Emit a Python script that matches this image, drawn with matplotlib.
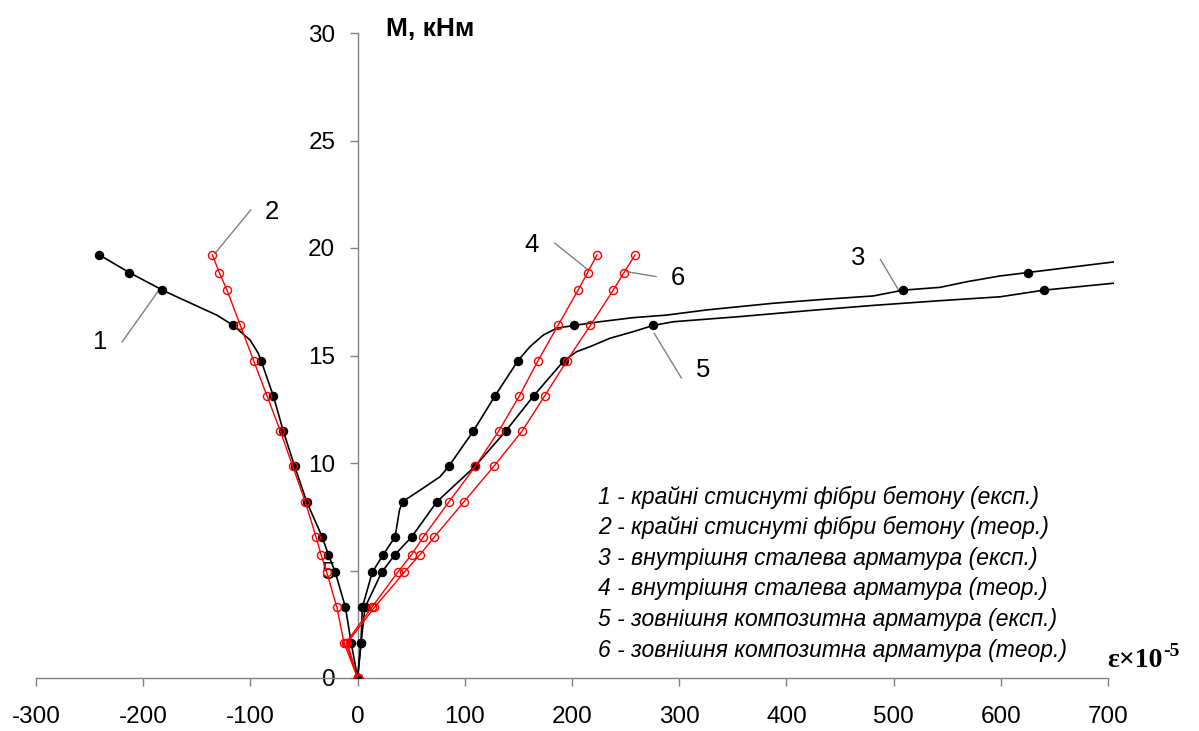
import matplotlib
matplotlib.use('Agg')
import matplotlib.pyplot as plt

plt.rcParams['font.family'] = ['Liberation Sans', 'DejaVu Sans']
plt.rcParams['axes.unicode_minus'] = False

# рівні моменту, кНм
m_all = [0, 1.64, 3.28, 4.92, 5.74, 6.56, 8.2, 9.84, 11.48, 13.12, 14.76, 16.4, 18.04, 18.86, 19.68]

# 1 - крайні стиснуті фібри бетону (експ.)
eps1 = [0, -6.0, -11.3, -20.8, -27.3, -33.0, -47.5, -58.7, -69.3, -78.6, -90.0, -116.0, -182.0, -213.0, -241.0]
eps1_line = [0, -6.0, -11.3, -20.8, -27.3, -33.0, -47.5, -58.7, -69.3, -78.6, -84.8, -90.0, -92.6, -100.3,
             -116.0, -131.4, -168.7, -182.0, -196.7, -213.0, -241.0]
m1_line = [0, 1.64, 3.28, 4.92, 5.74, 6.56, 8.2, 9.84, 11.48, 13.12, 14.01, 14.76, 15.1, 15.72,
           16.4, 16.88, 17.73, 18.04, 18.43, 18.86, 19.68]

# 2 - крайні стиснуті фібри бетону (теор.)
eps2 = [0, -12.7, -19.3, -28.8, -34.1, -38.8, -48.8, -60.5, -72.0, -84.5, -97.0, -109.4, -121.8, -129.0, -135.5]

# 3 - внутрішня сталева арматура (експ.)
eps3 = [0, 3.2, 4.4, 13.7, 24.0, 34.9, 42.0, 85.0, 107.9, 128.2, 149.6, 202.2, 509.0, 625.4]
m3 = [0, 1.64, 3.28, 4.92, 5.74, 6.56, 8.2, 9.84, 11.48, 13.12, 14.76, 16.4, 18.04, 18.86]
eps3_line = [0, 3.2, 4.4, 13.7, 24.0, 34.9, 37.1, 39.0, 42.0, 58.4, 76.9, 85.0, 107.9, 128.2, 149.6,
             160.8, 173.2, 185.7, 202.2, 226.0, 257.0, 288.3, 325.7, 387.8, 434.4, 481.0, 509.0,
             543.3, 568.2, 599.3, 625.4, 705.0]
m3_line = [0, 1.64, 3.28, 4.92, 5.74, 6.56, 7.2, 7.8, 8.2, 8.74, 9.36, 9.84, 11.48, 13.12, 14.76,
           15.41, 15.95, 16.27, 16.4, 16.57, 16.76, 16.88, 17.12, 17.43, 17.61, 17.77, 18.04,
           18.17, 18.43, 18.70, 18.86, 19.35]

# 4 - внутрішня сталева арматура (теор.)
eps4 = [0, -10.8, 13.2, 37.4, 50.4, 61.3, 85.3, 109.8, 131.6, 150.9, 168.3, 187.0, 205.6, 214.6, 223.3]

# 5 - зовнішня композитна арматура (експ.)
eps5 = [0, 3.2, 6.9, 22.5, 34.9, 50.4, 74.0, 109.5, 138.1, 164.2, 192.5, 275.9, 640.3]
m5 = [0, 1.64, 3.28, 4.92, 5.74, 6.56, 8.2, 9.84, 11.48, 13.12, 14.76, 16.4, 18.04]
eps5_line = [0, 3.2, 6.9, 22.5, 34.9, 50.4, 74.0, 109.5, 138.1, 164.2, 192.5, 204.4, 216.8, 235.4,
             257.2, 275.9, 294.5, 356.7, 418.9, 481.0, 543.3, 599.3, 640.3, 705.0]
m5_line = [0, 1.64, 3.28, 4.92, 5.74, 6.56, 8.2, 9.84, 11.48, 13.12, 14.76, 15.18, 15.41, 15.8,
           16.11, 16.4, 16.57, 16.81, 17.08, 17.33, 17.55, 17.73, 18.04, 18.36]

# 6 - зовнішня композитна арматура (теор.)
eps6 = [0, -9.6, 15.6, 43.6, 58.2, 71.6, 99.3, 127.0, 153.4, 174.5, 195.3, 217.1, 238.5, 248.5, 258.8]

legend_lines = [
    '1 - крайні стиснуті фібри бетону (експ.)',
    '2 - крайні стиснуті фібри бетону (теор.)',
    '3 - внутрішня сталева арматура (експ.)',
    '4 - внутрішня сталева арматура (теор.)',
    '5 - зовнішня композитна арматура (експ.)',
    '6 - зовнішня композитна арматура (теор.)',
]

fig = plt.figure(figsize=(11.99, 7.31), dpi=100)
ax = fig.add_axes([36 / 1199, 53 / 731, (1114.4 - 36) / 1199, 645 / 731])
ax.set_xlim(-300, 706)
ax.set_ylim(0, 30)

# оси
for s in ['top', 'right']:
    ax.spines[s].set_visible(False)
ax.spines['left'].set_position(('data', 0))
ax.spines['left'].set_bounds(0, 30)
ax.spines['bottom'].set_bounds(-300, 700)
for s in ['left', 'bottom']:
    ax.spines[s].set_color('#808080')
    ax.spines[s].set_linewidth(1.0)
ax.set_xticks(range(-300, 701, 100))
ax.set_yticks(range(0, 31, 5))
ax.tick_params(axis='both', direction='out', length=6, width=1.0, color='#808080',
               labelsize=17.5, labelcolor='black')
ax.tick_params(axis='x', pad=14)
ax.tick_params(axis='y', pad=10)

# експериментальні (чорні)
blk = dict(color='black', lw=1.2, zorder=3)
ax.plot(eps1_line, m1_line, **blk)
ax.plot(eps3_line, m3_line, **blk)
ax.plot(eps5_line, m5_line, **blk)
for e, m in [(eps1, m_all), (eps3, m3), (eps5, m5)]:
    ax.plot(e, m, 'o', color='black', ms=5.8, zorder=4)

# теоретичні (червоні)
for e in [eps2, eps4, eps6]:
    ax.plot(e, m_all, '-o', color='red', lw=1.0, ms=5.8, mfc='none', mew=1.0, zorder=5)

# виноски
leaders = [
    ('1', (-240.3, 15.63), (-219.7, 15.63), (-185.9, 18.0)),
    ('2', (-79.9, 21.67), (-99.7, 21.77), (-133.0, 19.75)),
    ('3', (466.8, 19.53), (487.7, 19.47), (506.6, 17.88)),
    ('4', (162.7, 20.14), (184.1, 20.22), (214.6, 19.0)),
    ('5', (322.2, 14.33), (276.8, 16.02), (302.0, 13.96)),
    ('6', (298.9, 18.6), (251.0, 18.9), (278.4, 18.67)),
]
for lbl, (tx, ty), (x0, y0), (x1, y1) in leaders:
    ax.plot([x0, x1], [y0, y1], color='#808080', lw=1.0, zorder=2)
    ax.text(tx, ty, lbl, fontsize=18.5, ha='center', va='center')

# підписи осей
ax.text(26.5, 30.2, 'М, кНм', fontsize=19, fontweight='bold', ha='left', va='center', clip_on=False)
serif = ['Liberation Serif', 'DejaVu Serif']
eps_lbl = ax.text(699, 0.5, 'ε×10', fontsize=20, fontweight='bold', family=serif,
                  ha='left', va='baseline', clip_on=False)
ax.annotate('-5', xy=(1.0, 1.0), xycoords=eps_lbl, xytext=(1, -2), textcoords='offset points',
            fontsize=14, fontweight='bold', family=serif, ha='left', va='center')

# пояснення
for i, t in enumerate(legend_lines):
    ax.text(224.3, 8.42 - i * 1.425, t, fontsize=16.5, style='italic', ha='left', va='center')

fig.savefig('out.png', dpi=100)
